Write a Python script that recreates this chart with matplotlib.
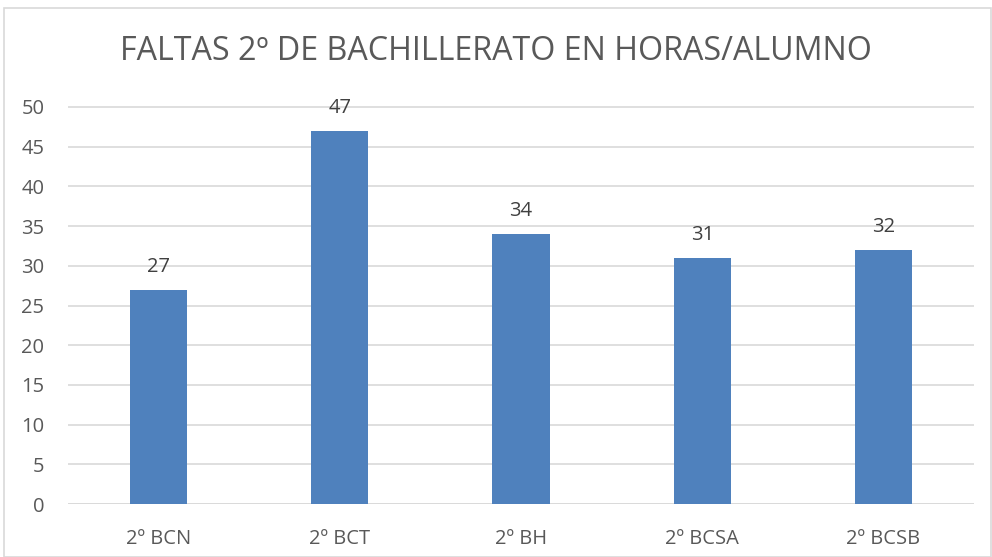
import matplotlib.pyplot as plt
from matplotlib.patches import Rectangle

# === Données ===
grupos = ["2º BCN", "2º BCT", "2º BH", "2º BCSA", "2º BCSB"]
faltas = [27, 47, 34, 31, 32]
titulo = "FALTAS 2º DE BACHILLERATO EN HORAS/ALUMNO"

gris = "#595959"
azul = "#4F81BD"
plt.rcParams["font.family"] = ["Open Sans", "DejaVu Sans"]

fig = plt.figure(figsize=(9.92, 5.57), dpi=100)
ax = fig.add_axes([68 / 992, 1 - 504 / 557, (974 - 68) / 992, (504 - 107) / 557 * 55 / 50])

x = range(len(grupos))
barras = ax.bar(x, faltas, width=0.315, color=azul, zorder=3)
for b, v in zip(barras, faltas):
    ax.text(b.get_x() + b.get_width() / 2, v + 1.6, str(v), ha="center", va="bottom",
            fontsize=14.5, color="#404040")

ax.set_xlim(-0.5, len(grupos) - 0.5)
ax.set_ylim(0, 55)
ax.set_xticks(list(x))
ax.set_xticklabels(grupos)
ax.tick_params(axis="both", length=0, labelsize=14.5, labelcolor=gris)
ax.tick_params(axis="y", pad=17)
ax.tick_params(axis="x", pad=18)
ax.yaxis.grid(True, color="#D9D9D9", lw=1.2, zorder=0)
for s in ax.spines.values():
    s.set_visible(False)
ax.axhline(0, color="#D9D9D9", lw=1.2, zorder=2)
ax.set_yticks(range(0, 51, 5))

fig.text(0.5, 1 - 52 / 557, titulo, ha="center", va="center", fontsize=23.2, color=gris)
fig.patches.append(Rectangle((4 / 992, 0), 1 - 5 / 992, 1 - 8 / 557, transform=fig.transFigure,
                             fill=False, edgecolor="#D9D9D9", lw=1.2))

fig.savefig("out.png", dpi=100)
